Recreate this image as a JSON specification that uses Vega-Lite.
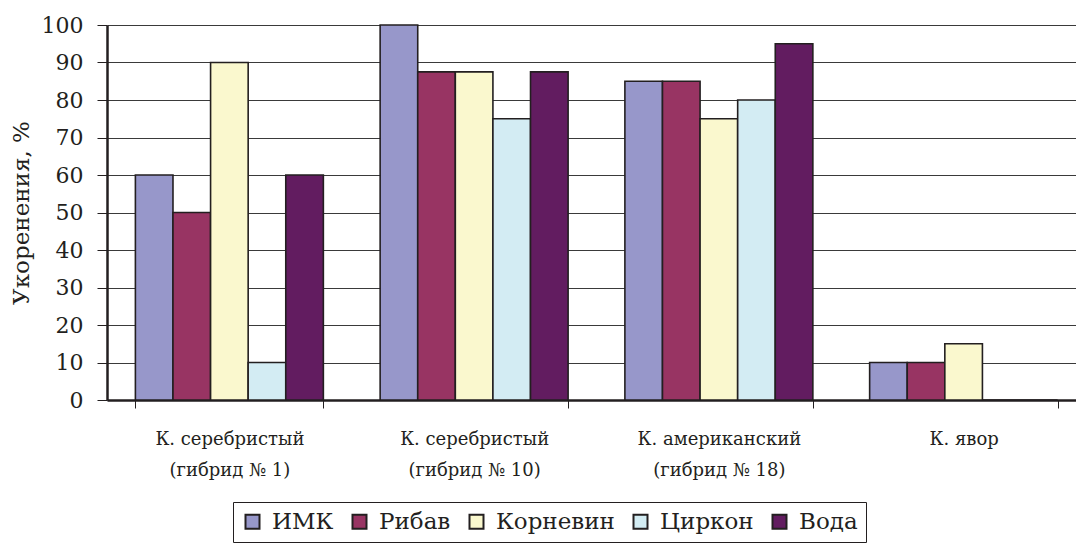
{
  "$schema": "https://vega.github.io/schema/vega-lite/v6.json",
  "width": 979,
  "height": 375,
  "autosize": {"type": "none"},
  "padding": {"left": 107, "top": 25, "right": 0, "bottom": 145},
  "background": "white",
  "config": {
    "font": "DejaVu Serif",
    "view": {"stroke": null}
  },
  "data": {
    "values": [
      {"group": "К. серебристый\n(гибрид № 1)", "treatment": "ИМК", "value": 60},
      {"group": "К. серебристый\n(гибрид № 1)", "treatment": "Рибав", "value": 50},
      {"group": "К. серебристый\n(гибрид № 1)", "treatment": "Корневин", "value": 90},
      {"group": "К. серебристый\n(гибрид № 1)", "treatment": "Циркон", "value": 10},
      {"group": "К. серебристый\n(гибрид № 1)", "treatment": "Вода", "value": 60},
      {"group": "К. серебристый\n(гибрид № 10)", "treatment": "ИМК", "value": 100},
      {"group": "К. серебристый\n(гибрид № 10)", "treatment": "Рибав", "value": 87.5},
      {"group": "К. серебристый\n(гибрид № 10)", "treatment": "Корневин", "value": 87.5},
      {"group": "К. серебристый\n(гибрид № 10)", "treatment": "Циркон", "value": 75},
      {"group": "К. серебристый\n(гибрид № 10)", "treatment": "Вода", "value": 87.5},
      {"group": "К. американский\n(гибрид № 18)", "treatment": "ИМК", "value": 85},
      {"group": "К. американский\n(гибрид № 18)", "treatment": "Рибав", "value": 85},
      {"group": "К. американский\n(гибрид № 18)", "treatment": "Корневин", "value": 75},
      {"group": "К. американский\n(гибрид № 18)", "treatment": "Циркон", "value": 80},
      {"group": "К. американский\n(гибрид № 18)", "treatment": "Вода", "value": 95},
      {"group": "К. явор", "treatment": "ИМК", "value": 10},
      {"group": "К. явор", "treatment": "Рибав", "value": 10},
      {"group": "К. явор", "treatment": "Корневин", "value": 15},
      {"group": "К. явор", "treatment": "Циркон", "value": 0},
      {"group": "К. явор", "treatment": "Вода", "value": 0}
    ]
  },
  "mark": {"type": "bar", "stroke": "#231f20", "strokeWidth": 1.6},
  "encoding": {
    "x": {
      "field": "group",
      "type": "nominal",
      "sort": null,
      "scale": {"paddingInner": 0.232, "paddingOuter": 0.116},
      "axis": {
        "title": null,
        "labelAngle": 0,
        "labelExpr": "split(datum.label, '\\n')",
        "labelFont": "DejaVu Serif",
        "labelFontSize": 18,
        "labelColor": "#231f20",
        "labelLineHeight": 31,
        "labelPadding": 22,
        "tickBand": "extent",
        "tickSize": 8,
        "tickColor": "#231f20",
        "tickWidth": 1,
        "domainColor": "#231f20",
        "domainWidth": 2.5
      }
    },
    "xOffset": {
      "field": "treatment",
      "type": "nominal",
      "sort": ["ИМК", "Рибав", "Корневин", "Циркон", "Вода"],
      "scale": {"paddingInner": 0, "paddingOuter": 0}
    },
    "y": {
      "field": "value",
      "type": "quantitative",
      "scale": {"domain": [0, 100], "nice": false},
      "axis": {
        "title": "Укоренения, %",
        "titleFont": "DejaVu Serif",
        "titleFontSize": 23,
        "titleFontWeight": "normal",
        "titleColor": "#231f20",
        "titlePadding": 8,
        "values": [0, 10, 20, 30, 40, 50, 60, 70, 80, 90, 100],
        "labelFont": "DejaVu Serif",
        "labelFontSize": 22,
        "labelColor": "#231f20",
        "labelPadding": 14,
        "tickSize": 10,
        "tickColor": "#231f20",
        "tickWidth": 1,
        "domainColor": "#231f20",
        "domainWidth": 2.5,
        "grid": true,
        "gridColor": "#3a3a3a",
        "gridWidth": 1
      }
    },
    "color": {
      "field": "treatment",
      "type": "nominal",
      "sort": ["ИМК", "Рибав", "Корневин", "Циркон", "Вода"],
      "scale": {
        "domain": ["ИМК", "Рибав", "Корневин", "Циркон", "Вода"],
        "range": ["#9797ca", "#983463", "#faf8ce", "#d3ecf3", "#621c60"]
      },
      "legend": {
        "title": null,
        "orient": "none",
        "legendX": 126,
        "legendY": 477,
        "direction": "horizontal",
        "columns": 5,
        "strokeColor": "#231f20",
        "padding": 8,
        "symbolType": "square",
        "symbolSize": 196,
        "symbolStrokeColor": "#231f20",
        "symbolStrokeWidth": 2,
        "labelFont": "DejaVu Serif",
        "labelFontSize": 23,
        "labelColor": "#231f20",
        "labelOffset": 8,
        "columnPadding": 14
      }
    }
  }
}
